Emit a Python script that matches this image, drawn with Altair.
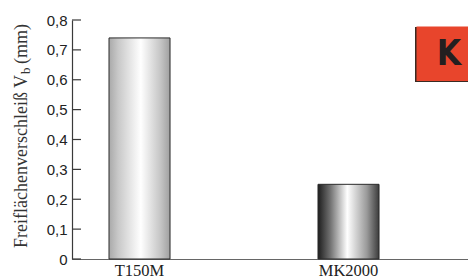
import altair as alt
import pandas as pd

categories = ["T150M", "MK2000"]
values = [0.74, 0.25]
y_ticks = [0, 0.1, 0.2, 0.3, 0.4, 0.5, 0.6, 0.7, 0.8]

df = pd.DataFrame({"cat": categories, "val": values})
ticks_df = pd.DataFrame({"t": y_ticks})

AX = "#3a3a3a"

x_scale = alt.Scale(domain=categories, paddingInner=0.708, paddingOuter=0.3014, align=0.2937)
y_scale = alt.Scale(domain=[0, 0.8], nice=False)

grad1 = alt.Gradient(
    gradient="linear", x1=0, x2=1, y1=0, y2=0,
    stops=[
        alt.GradientStop(offset=0, color="#a9a9a9"),
        alt.GradientStop(offset=0.15, color="#c8c8c8"),
        alt.GradientStop(offset=0.52, color="#ffffff"),
        alt.GradientStop(offset=0.85, color="#c4c4c4"),
        alt.GradientStop(offset=1, color="#a0a0a0"),
    ],
)
grad2 = alt.Gradient(
    gradient="linear", x1=0, x2=1, y1=0, y2=0,
    stops=[
        alt.GradientStop(offset=0, color="#1e1e1e"),
        alt.GradientStop(offset=0.2, color="#707070"),
        alt.GradientStop(offset=0.48, color="#ffffff"),
        alt.GradientStop(offset=0.8, color="#9a9a9a"),
        alt.GradientStop(offset=1, color="#3c3c3c"),
    ],
)

x_enc = alt.X(
    "cat:N", scale=x_scale, sort=categories, title=None,
    axis=alt.Axis(
        labelAngle=0, ticks=False, domainColor="#666666", domainWidth=1.2,
        labelFont="Liberation Serif", labelFontSize=16.5, labelColor="#222222",
        labelPadding=3,
    ),
)
y_axis = alt.Axis(
    values=y_ticks, ticks=False, domainColor=AX, domainWidth=1.2,
    labelExpr="datum.value == 0 ? '0' : replace(format(datum.value, '.1f'), '.', ',')",
    labelFont="Liberation Sans", labelFontSize=15, labelColor="#222222",
    labelPadding=5, grid=False, labelOverlap=False,
)
y_enc = alt.Y("val:Q", scale=y_scale, title=None, axis=y_axis)

bar1 = alt.Chart(df).transform_filter(alt.datum.cat == "T150M").mark_bar(
    color=grad1, stroke="#2a2a2a", strokeWidth=1
).encode(x=x_enc, y=y_enc)
bar2 = alt.Chart(df).transform_filter(alt.datum.cat == "MK2000").mark_bar(
    color=grad2, stroke="#2a2a2a", strokeWidth=1
).encode(x=x_enc, y=y_enc)

tick_marks = alt.Chart(ticks_df).mark_rule(color=AX, strokeWidth=1.2).encode(
    y=alt.Y("t:Q", scale=y_scale, title=None, axis=y_axis),
    x=alt.value(0),
    x2=alt.value(9),
)

title_df = pd.DataFrame({"txt": ["Freiflächenverschleiß V"], "sub": ["b"], "rest": ["(mm)"]})
title_main = alt.Chart(title_df).mark_text(
    font="Liberation Serif", fontSize=18, color="#333333", angle=270,
    align="left", baseline="alphabetic",
).encode(text="txt:N", x=alt.value(-45), y=alt.value(228))
title_sub = alt.Chart(title_df).mark_text(
    font="Liberation Serif", fontSize=13, color="#333333", angle=270,
    align="left", baseline="alphabetic",
).encode(text="sub:N", x=alt.value(-42), y=alt.value(54))
title_rest = alt.Chart(title_df).mark_text(
    font="Liberation Serif", fontSize=18, color="#333333", angle=270,
    align="left", baseline="alphabetic",
).encode(text="rest:N", x=alt.value(-45), y=alt.value(44))

badge_shadow = alt.Chart(pd.DataFrame({"k": [0]})).mark_rect(color="#3a2a22").encode(
    x=alt.value(343), x2=alt.value(400), y=alt.value(7), y2=alt.value(62)
)
badge = alt.Chart(pd.DataFrame({"k": [0]})).mark_rect(color="#e8452c").encode(
    x=alt.value(344.5), x2=alt.value(400), y=alt.value(6.5), y2=alt.value(61)
)
badge_text = alt.Chart(pd.DataFrame({"k": ["K"]})).mark_text(
    font="DejaVu Sans Condensed", fontWeight="bold", fontSize=35, color="#231f20",
    baseline="middle", align="center",
).encode(text="k:N", x=alt.value(377), y=alt.value(34))

chart = alt.layer(
    bar1, bar2, tick_marks, title_main, title_sub, title_rest,
    badge_shadow, badge, badge_text,
).properties(
    width=396, height=239,
    autosize=alt.AutoSizeParams(type="none"),
    padding={"left": 64, "top": 12, "right": 0, "bottom": 21},
).configure_view(stroke=None)

chart.save("out.html", embed_options={"renderer": "svg", "actions": False})
